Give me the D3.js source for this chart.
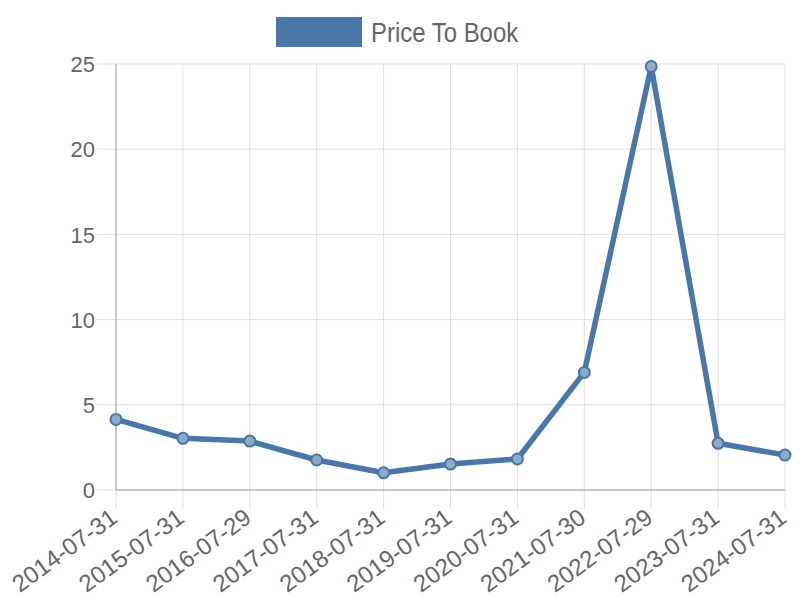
<!DOCTYPE html>
<html lang="en">
<head>
<meta charset="utf-8">
<title>Price To Book</title>
<script src="https://d3js.org/d3.v7.min.js"></script>
<style>
	body { margin: 0; background: #fff; font-family: "Liberation Sans", Arial, sans-serif; }
	.grid line { stroke: #e0e0e0; stroke-width: 1; }
	.axis text { fill: #666; font-size: 24px; font-family: "Liberation Sans", Arial, sans-serif; }
	.axis.yaxis text { font-size: 22px; }
	.axis path { display: none; }
	.axis line { stroke: #e0e0e0; }
	.legend-label { font-family: "Liberation Sans", Arial, sans-serif; font-size: 28px; fill: #666; }
</style>
</head>
<body>
<script>
	// data
	var dates = ["2014-07-31", "2015-07-31", "2016-07-29", "2017-07-31", "2018-07-31", "2019-07-31",
		"2020-07-31", "2021-07-30", "2022-07-29", "2023-07-31", "2024-07-31"];
	var priceToBook = [4.14, 3.03, 2.87, 1.76, 1.01, 1.52, 1.82, 6.9, 24.85, 2.74, 2.05];
	var yTicks = [0, 5, 10, 15, 20, 25];

	var width = 800, height = 600;
	var margin = {top: 64, right: 15, bottom: 110, left: 116};
	var color = "#4a76a8";
	var tickLen = 19;

	var svg = d3.select("body").append("svg")
		.attr("width", width)
		.attr("height", height);

	var x = d3.scalePoint()
		.domain(dates)
		.range([margin.left, width - margin.right]);

	var y = d3.scaleLinear()
		.domain([0, 25])
		.range([height - margin.bottom, margin.top]);

	// vertical grid lines + ticks
	svg.append("g").attr("class", "grid")
		.selectAll("line")
		.data(dates)
		.enter().append("line")
		.attr("x1", function(d){ return x(d); })
		.attr("x2", function(d){ return x(d); })
		.attr("y1", margin.top)
		.attr("y2", height - margin.bottom + tickLen);

	// horizontal grid lines + ticks
	svg.append("g").attr("class", "grid")
		.selectAll("line")
		.data(yTicks)
		.enter().append("line")
		.attr("x1", margin.left - tickLen)
		.attr("x2", width - margin.right)
		.attr("y1", function(d){ return y(d); })
		.attr("y2", function(d){ return y(d); });

	// axis lines
	svg.append("line")
		.attr("x1", margin.left).attr("x2", margin.left)
		.attr("y1", margin.top).attr("y2", height - margin.bottom)
		.attr("stroke", "#a0a0a0");
	svg.append("line")
		.attr("x1", margin.left).attr("x2", width - margin.right)
		.attr("y1", y(0)).attr("y2", y(0))
		.attr("stroke", "#a0a0a0");

	// y axis labels
	svg.append("g").attr("class", "axis yaxis")
		.attr("transform", "translate(" + (margin.left - tickLen - 2) + ",0)")
		.call(d3.axisLeft(y).tickValues(yTicks).tickSize(0).tickPadding(0))
		.selectAll("text")
		.attr("dy", "0.35em");

	// x axis labels
	var xAxis = svg.append("g").attr("class", "axis")
		.attr("transform", "translate(0," + (height - margin.bottom + 31) + ")")
		.call(d3.axisBottom(x).tickSize(0).tickPadding(0));
	xAxis.selectAll(".tick")
		.attr("transform", function(d){ return "translate(" + (x(d) + 3) + ",0)"; });
	xAxis.selectAll("text")
		.attr("y", 0)
		.attr("dy", 0)
		.attr("text-anchor", "end")
		.attr("transform", "rotate(-36)");

	// line
	var line = d3.line()
		.x(function(d, i){ return x(dates[i]); })
		.y(function(d){ return y(d); });

	svg.append("path")
		.datum(priceToBook)
		.attr("fill", "none")
		.attr("stroke", color)
		.attr("stroke-width", 5.5)
		.attr("stroke-linejoin", "round")
		.attr("d", line);

	svg.selectAll("circle.pt")
		.data(priceToBook)
		.enter().append("circle")
		.attr("class", "pt")
		.attr("cx", function(d, i){ return x(dates[i]); })
		.attr("cy", function(d){ return y(d); })
		.attr("r", 5.5)
		.attr("fill", "#8fa9c8")
		.attr("stroke", color)
		.attr("stroke-width", 2);

	// legend
	var legend = svg.append("g");
	legend.append("rect")
		.attr("x", 276).attr("y", 17)
		.attr("width", 86).attr("height", 30)
		.attr("fill", color);
	legend.append("text")
		.attr("class", "legend-label")
		.attr("transform", "translate(371,42) scale(0.855,1)")
		.text("Price To Book");
</script>
</body>
</html>
